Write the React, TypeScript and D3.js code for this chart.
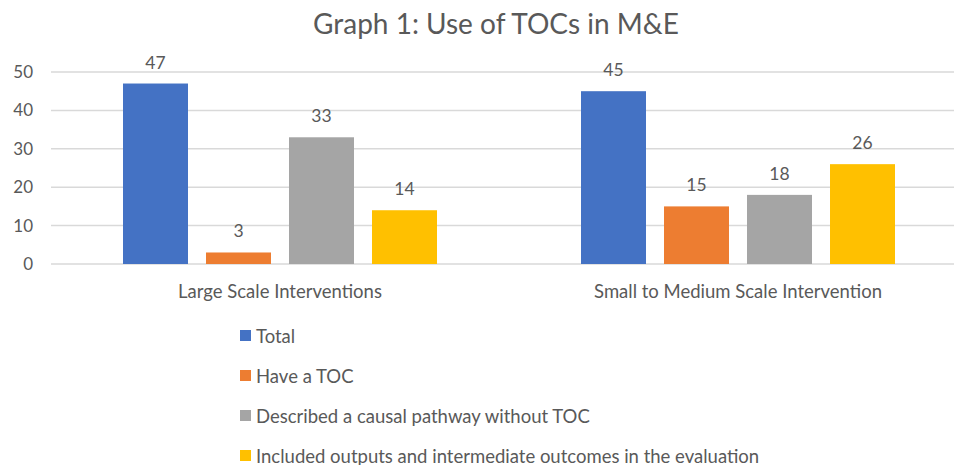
import React from 'react';
import * as d3 from 'd3';

// Grouped bars: use of TOCs in M&E, two intervention scales, four measures.
const categories = ['Large Scale Interventions', 'Small to Medium Scale Intervention'];
const seriesNames = [
  'Total',
  'Have a TOC',
  'Described a causal pathway without TOC',
  'Included outputs and intermediate outcomes in the evaluation',
];
const seriesColors = ['#4472C4', '#ED7D31', '#A5A5A5', '#FFC000'];
const largeValues = [47, 3, 33, 14];
const smallValues = [45, 15, 18, 26];
const yTicks = [0, 10, 20, 30, 40, 50];

const W = 954;
const H = 465;
const FONT = 'Lato, "Open Sans", sans-serif';
const TEXT = '#595959';

export default function App() {
  const rows = [largeValues, smallValues];

  const x0 = d3.scaleBand<string>().domain(categories).range([51, 967]);
  const bw = x0.bandwidth();
  const groupW = 314;
  const x1 = d3
    .scaleBand<string>()
    .domain(seriesNames)
    .range([(bw - groupW) / 2, (bw + groupW) / 2])
    .paddingInner(0.217);
  const y = d3.scaleLinear().domain([0, 50]).range([264, 72]);

  return (
    <svg width={W} height={H} style={{ position: 'absolute', left: 0, top: 0, background: '#fff' }}>
      <text x={496} y={34} textAnchor="middle" fontFamily={FONT} fontSize={28} fill={TEXT}>
        Graph 1: Use of TOCs in M&amp;E
      </text>

      {/* gridlines and y ticks */}
      {yTicks.map((t) => (
        <g key={t}>
          <line x1={51} x2={W} y1={y(t)} y2={y(t)} stroke="#D9D9D9" strokeWidth={1.5} />
          <text x={33} y={y(t) + 6} textAnchor="end" fontFamily={FONT} fontSize={17} fill={TEXT}>
            {t}
          </text>
        </g>
      ))}

      {/* bars */}
      {categories.map((c, ci) => (
        <g key={c} transform={`translate(${x0(c)},0)`}>
          {seriesNames.map((s, si) => {
            const v = rows[ci][si];
            const bx = x1(s)!;
            return (
              <g key={s}>
                <rect x={bx} y={y(v)} width={x1.bandwidth()} height={y(0) - y(v)} fill={seriesColors[si]} />
                <text
                  x={bx + x1.bandwidth() / 2}
                  y={y(v) - 15}
                  textAnchor="middle"
                  fontFamily={FONT}
                  fontSize={17.5}
                  fill={TEXT}
                >
                  {v}
                </text>
              </g>
            );
          })}
          <text x={bw / 2} y={298} textAnchor="middle" fontFamily={FONT} fontSize={18.5} fill={TEXT}>
            {c}
          </text>
        </g>
      ))}

      {/* legend */}
      {seriesNames.map((s, i) => (
        <g key={s} transform={`translate(240,${336 + i * 40})`}>
          <rect x={0} y={-6} width={11} height={11} fill={seriesColors[i]} />
          <text x={16} y={6.5} fontFamily={FONT} fontSize={18.5} fill={TEXT}>
            {s}
          </text>
        </g>
      ))}
    </svg>
  );
}
